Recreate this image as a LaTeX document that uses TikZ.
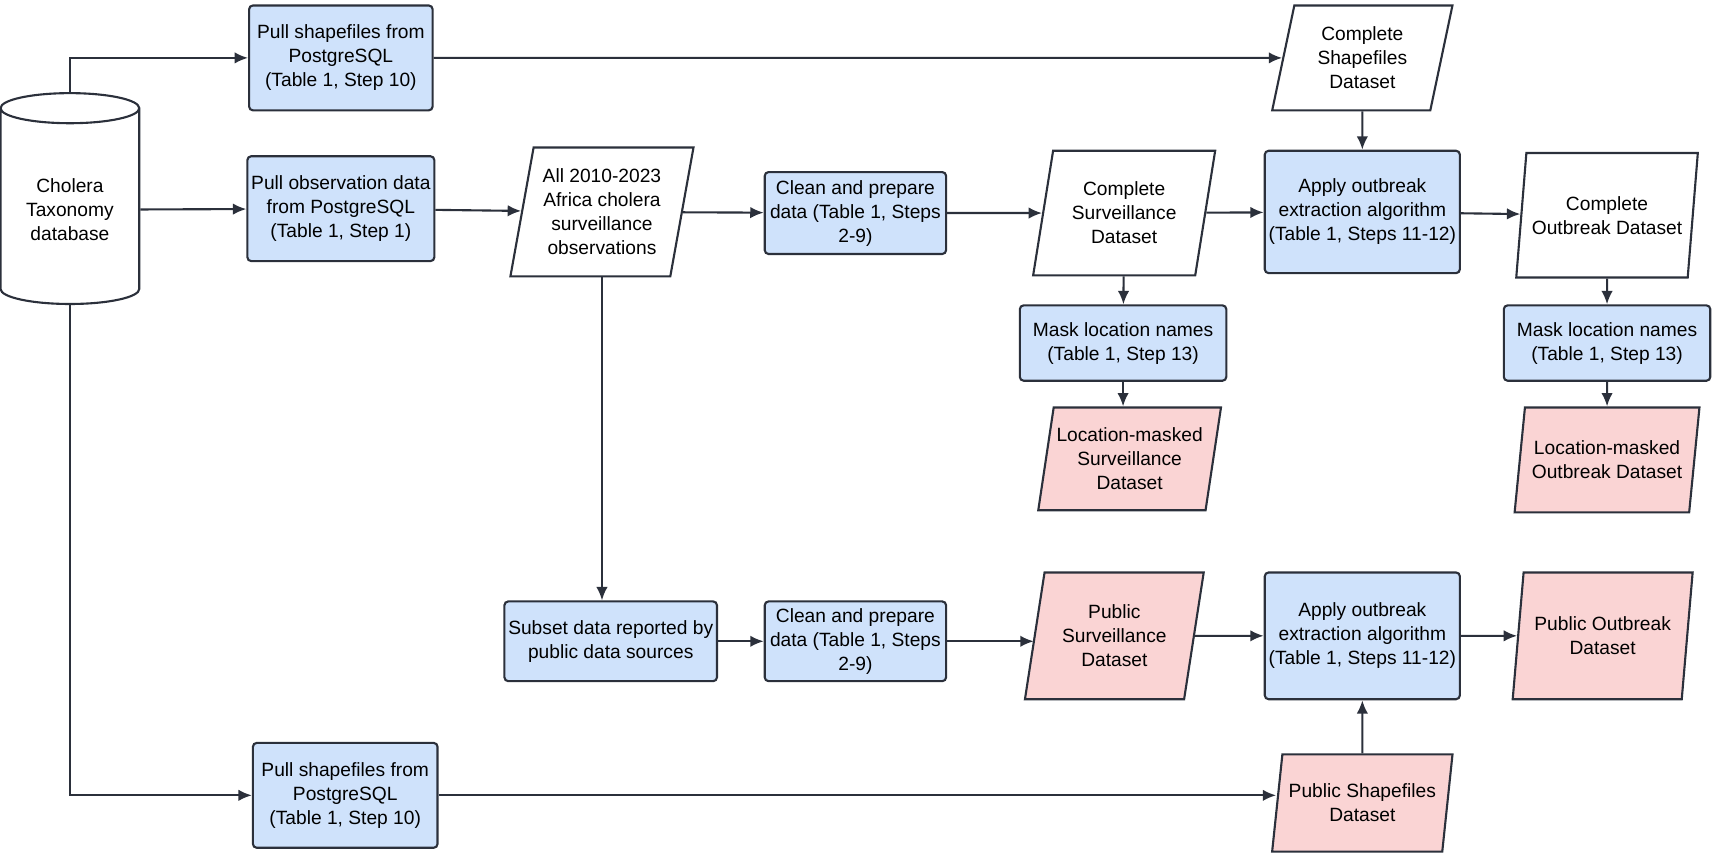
\documentclass[tikz,border=0pt]{standalone}
\usepackage{fontspec}
\setmainfont{Liberation Sans}
\usetikzlibrary{shapes.geometric,arrows.meta}
\definecolor{procblue}{HTML}{CFE2FB}
\definecolor{outpink}{HTML}{FAD4D4}
\definecolor{linegray}{HTML}{2B303B}
\begin{document}
\begin{tikzpicture}[x=0.02cm,y=-0.02cm,font=\fontsize{10}{12.5}\selectfont,
    line width=1.1pt, draw=linegray,
    proc/.style={draw=linegray, fill=procblue, rounded corners=2pt, align=center, inner sep=2pt},
    data/.style={draw=linegray, trapezium, trapezium left angle=77, trapezium right angle=103,
        trapezium stretches=true, align=center, inner sep=1pt, fill=white},
    pub/.style={data, fill=outpink},
    flow/.style={draw=linegray, -{Latex[length=7pt,width=6pt]}}]
                    \useasboundingbox (0,0) rectangle (1568,782);
                    % Base de datos
                    \node[draw=linegray, cylinder, shape border rotate=90, aspect=0.3,
                        minimum width=127*0.02cm, minimum height=193*0.02cm, align=center] (db) at (64,192)
                        {Cholera\\Taxonomy\\database};
                
                    % Fila superior
                    \node[proc, minimum width=168*0.02cm, minimum height=96*0.02cm] (pullA) at (312,53)
                        {Pull shapefiles from\\PostgreSQL\\(Table 1, Step 10)};
                    \node[data, minimum width=166*0.02cm, minimum height=96*0.02cm] (shp) at (1247,53)
                        {Complete\\Shapefiles\\Dataset};
                
                    % Fila principal
                    \node[proc, minimum width=168*0.02cm, minimum height=96*0.02cm] (pullB) at (312,191)
                        {Pull observation data\\from PostgreSQL\\(Table 1, Step 1)};
                    \node[data, minimum width=168*0.02cm, minimum height=118*0.02cm] (obs) at (551,194)
                        {All 2010-2023\\Africa cholera\\surveillance\\observations};
                    \node[proc, minimum width=166*0.02cm, minimum height=75*0.02cm] (cleanA) at (783,195)
                        {Clean and prepare\\data (Table 1, Steps\\2-9)};
                    \node[data, minimum width=167*0.02cm, minimum height=114*0.02cm] (surv) at (1029,195)
                        {Complete\\Surveillance\\Dataset};
                    \node[proc, minimum width=167*0.02cm, minimum height=112*0.02cm] (applyA) at (1247,194)
                        {Apply outbreak\\extraction algorithm\\(Table 1, Steps 11-12)};
                    \node[data, minimum width=167*0.02cm, minimum height=114*0.02cm] (outb) at (1471,197)
                        {Complete\\Outbreak Dataset};
                
                    % Enmascarado
                    \node[proc, minimum width=189*0.02cm, minimum height=69*0.02cm] (maskA) at (1028,314)
                        {Mask location names\\(Table 1, Step 13)};
                    \node[pub, minimum width=168*0.02cm, minimum height=94*0.02cm] (lsurv) at (1034,420)
                        {Location-masked\\Surveillance\\Dataset};
                    \node[proc, minimum width=189*0.02cm, minimum height=69*0.02cm] (maskB) at (1471,314)
                        {Mask location names\\(Table 1, Step 13)};
                    \node[pub, minimum width=170*0.02cm, minimum height=96*0.02cm] (lout) at (1471,421)
                        {Location-masked\\Outbreak Dataset};
                
                    % Fila publica
                    \node[proc, minimum width=191*0.02cm, minimum height=73*0.02cm] (subset) at (559,587)
                        {Subset data reported by\\public data sources};
                    \node[proc, minimum width=166*0.02cm, minimum height=73*0.02cm] (cleanB) at (783,587)
                        {Clean and prepare\\data (Table 1, Steps\\2-9)};
                    \node[pub, minimum width=164*0.02cm, minimum height=116*0.02cm] (psurv) at (1020,582)
                        {Public\\Surveillance\\Dataset};
                    \node[proc, minimum width=167*0.02cm, minimum height=116*0.02cm] (applyB) at (1247,582)
                        {Apply outbreak\\extraction algorithm\\(Table 1, Steps 11-12)};
                    \node[pub, minimum width=165*0.02cm, minimum height=116*0.02cm] (pout) at (1467,582)
                        {Public Outbreak\\Dataset};
                
                    % Fila inferior
                    \node[proc, minimum width=169*0.02cm, minimum height=96*0.02cm] (pullC) at (316,728)
                        {Pull shapefiles from\\PostgreSQL\\(Table 1, Step 10)};
                    \node[pub, minimum width=166*0.02cm, minimum height=89*0.02cm] (pshp) at (1247,735)
                        {Public Shapefiles\\Dataset};
                
                    % Flechas
                    \draw[flow] (db.top) |- (pullA);
                    \draw[flow] (db) -- (pullB);
                    \draw[flow] (db.bottom) |- (pullC);
                    \draw[flow] (pullA) -- (shp);
                    \draw[flow] (shp) -- (applyA);
                    \draw[flow] (pullB) -- (obs);
                    \draw[flow] (obs) -- (cleanA);
                    \draw[flow] (cleanA) -- (surv);
                    \draw[flow] (surv) -- (applyA);
                    \draw[flow] (applyA) -- (outb);
                    \draw[flow] (surv) -- (maskA);
                    \draw[flow] (maskA) -- (maskA |- lsurv.north);
                    \draw[flow] (outb) -- (maskB);
                    \draw[flow] (maskB) -- (lout);
                    \draw[flow] (obs.south) -- (obs.south |- subset.north);
                    \draw[flow] (subset) -- (cleanB);
                    \draw[flow] (cleanB.east) -- (psurv.west |- cleanB.east);
                    \draw[flow] (psurv) -- (applyB);
                    \draw[flow] (applyB) -- (pout);
                    \draw[flow] (pshp) -- (applyB);
                    \draw[flow] (pullC) -- (pullC -| pshp.west);
\end{tikzpicture}
\end{document}
